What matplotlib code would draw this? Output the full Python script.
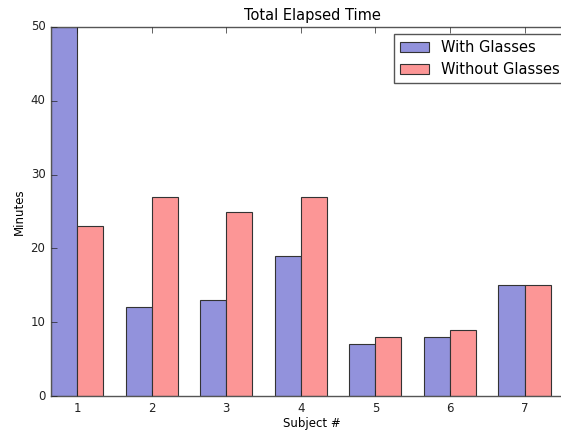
import numpy as np
import matplotlib
matplotlib.use("Agg")
import matplotlib.pyplot as plt

# ============================================
# DATA
# ============================================

subjects = ["1", "2", "3", "4", "5", "6", "7"]
with_glasses = [50, 12, 13, 19, 7, 8, 15]
without_glasses = [23, 27, 25, 27, 8, 9, 15]

# ============================================
# PLOT
# ============================================

plt.style.use("classic")
plt.rcParams["font.family"] = ["DejaVu Sans"]

fig = plt.figure(figsize=(5.61, 4.32), dpi=100)
# axes run off the right edge, like the cropped original
ax = fig.add_axes([51 / 561, 1 - 396 / 432, (573 - 51) / 561, (396 - 27) / 432])

index = np.arange(len(subjects))
bar_width = 0.35

ax.bar(index, with_glasses, bar_width, align="edge",
       color="#9292dc", edgecolor="#333333", linewidth=0.8, label="With Glasses")
ax.bar(index + bar_width, without_glasses, bar_width, align="edge",
       color="#fc9696", edgecolor="#333333", linewidth=0.8, label="Without Glasses")

ax.set_xlim(0, 7)
ax.set_ylim(0, 50)
ax.set_xticks(index + bar_width)
ax.set_xticklabels(subjects)
ax.set_yticks([0, 10, 20, 30, 40, 50])

ax.tick_params(labelsize=8.5, colors="#222222")
for s in ax.spines.values():
    s.set_color("#555555")

ax.set_title("Total Elapsed Time", fontsize=10.5)
ax.set_xlabel("Subject #", fontsize=8.5, labelpad=2)
ax.set_ylabel("Minutes", fontsize=8.5, labelpad=3.5)

leg = ax.legend(loc="upper right", fontsize=10.5, frameon=True)
leg.get_frame().set_edgecolor("#555555")

fig.savefig("out.png", dpi=100)
